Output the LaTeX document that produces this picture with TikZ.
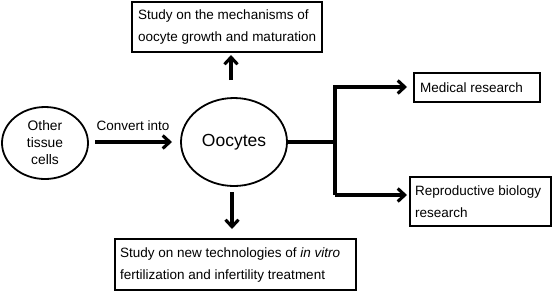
\documentclass[tikz,border=0pt]{standalone}
\usepackage{fontspec}
\setmainfont{Liberation Sans}
\usetikzlibrary{arrows.meta,shapes.geometric}
\begin{document}
\begin{tikzpicture}[x=1pt,y=-1pt,
  txt/.style={font=\fontsize{13.5}{22}\selectfont,inner sep=0pt},
  box/.style={draw,line width=1.8pt},
  cell/.style={draw,ellipse,line width=1.8pt},
  arr/.style={line width=3.1pt,-{Straight Barb[length=7pt,width=13pt,line width=3.1pt]}},
  ln/.style={line width=3.1pt}]
\useasboundingbox (0,0) rectangle (553,301);
\node[cell,minimum width=86,minimum height=72,font=\fontsize{13.8}{17}\selectfont,align=center,inner sep=0pt] (other) at (45,143) {Other\\tissue\\cells};
\node[cell,minimum width=106,minimum height=88,font=\fontsize{17.5}{20}\selectfont] (oo) at (234,142) {Oocytes};
\draw[box] (132,2) rectangle (322,52);
\node[txt,anchor=west,align=left] (top) at (138,27) {Study on the mechanisms of\\oocyte growth and maturation};
\draw[box] (115,239) rectangle (356,290);
\node[txt,anchor=west,align=left] (bot) at (120,264.5) {Study on new technologies of \textit{in vitro}\\fertilization and infertility treatment};
\draw[box] (414,73) rectangle (540,102);
\node[txt,anchor=west] (med) at (420,87.5) {Medical research};
\draw[box] (410,177) rectangle (551,226);
\node[txt,anchor=west,align=left] (rep) at (415,201.5) {Reproductive biology\\research};
\coordinate (b) at (335,142);
\coordinate (bt) at (335,87);
\coordinate (bb) at (335,195);
\draw[arr] (95,142) -- (172,142);
\node[txt] (conv) at (133,126) {Convert into};
\draw[arr] (231,80) -- (231,55);
\draw[arr] (232,192) -- (232,229);
\draw[ln] (oo.east) -- (b);
\draw[arr] (bb) -- (bt) -- (407,87);
\draw[arr] (bb) -- (407,195);
\end{tikzpicture}
\end{document}
